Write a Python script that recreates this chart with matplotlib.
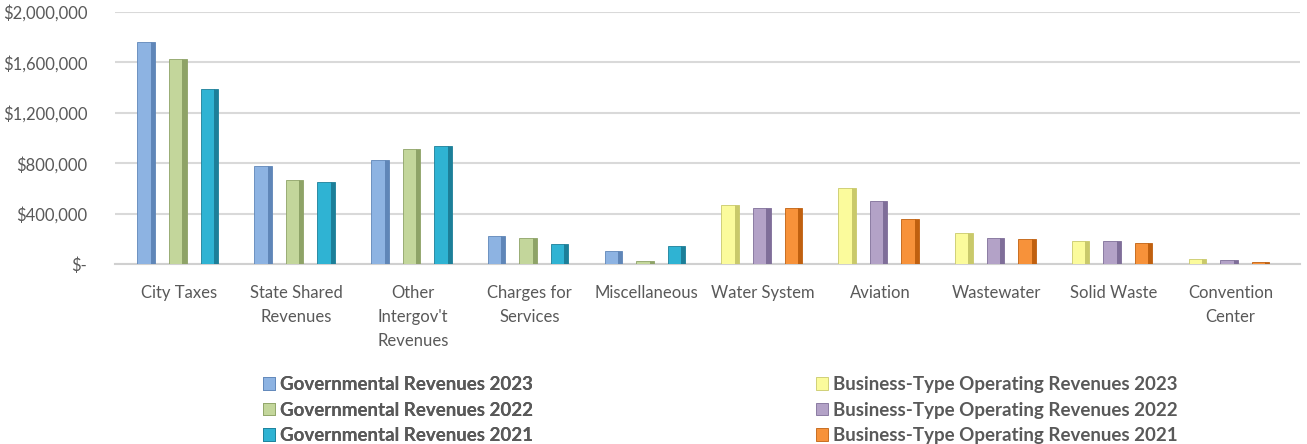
import numpy as np
import matplotlib
matplotlib.use('Agg')
import matplotlib.pyplot as plt
from matplotlib.ticker import FuncFormatter
from matplotlib.patches import Patch

categories = ["City Taxes", "State Shared\nRevenues", "Other\nIntergov't\nRevenues",
              "Charges for\nServices", "Miscellaneous", "Water System", "Aviation",
              "Wastewater", "Solid Waste", "Convention\nCenter"]

gov_2023 = [1760000, 776000, 824000, 224000, 104000]
gov_2022 = [1624000, 664000, 912000, 208000, 24000]
gov_2021 = [1392000, 648000, 936000, 160000, 144000]

bus_2023 = [472000, 608000, 248000, 184000, 40000]
bus_2022 = [448000, 504000, 208000, 184000, 32000]
bus_2021 = [448000, 360000, 200000, 168000, 16000]

yticks = [0, 400000, 800000, 1200000, 1600000, 2000000]

series = [
    ("Governmental Revenues 2023", gov_2023, "#8db3e2", "#5f86b8"),
    ("Governmental Revenues 2022", gov_2022, "#c3d69b", "#8ea367"),
    ("Governmental Revenues 2021", gov_2021, "#2fb3d3", "#1c7f99"),
    ("Business-Type Operating Revenues 2023", bus_2023, "#fbfb9c", "#c9c96a"),
    ("Business-Type Operating Revenues 2022", bus_2022, "#b3a2c7", "#7f6e99"),
    ("Business-Type Operating Revenues 2021", bus_2021, "#f7923a", "#c0600f"),
]

text_col = "#595959"
plt.rcParams['font.family'] = ['Lato', 'DejaVu Sans']


def money(v, pos):
    if v == 0:
        return "$-"
    return "${:,.0f}".format(v)


def main():
    fig = plt.figure(figsize=(13.07, 4.44), dpi=100)
    ax = fig.add_axes([0.088, 0.405, 0.907, 0.568])

    x = np.arange(len(categories))
    gov_x = x[:5]
    bus_x = x[5:]
    offsets = [-0.3, -0.03, 0.24]
    face_w = 0.115
    side_w = 0.035

    handles = []
    for i, (name, vals, col, dark) in enumerate(series):
        pos = gov_x if i < 3 else bus_x
        xx = pos + offsets[i % 3]
        ax.bar(xx, vals, face_w, color=col, edgecolor=dark, linewidth=0.6, zorder=3)
        ax.bar(xx + face_w / 2 + side_w / 2, vals, side_w, color=dark,
               edgecolor=dark, linewidth=0.6, zorder=3)
        handles.append(Patch(facecolor=col, edgecolor=dark, linewidth=0.6, label=name))

    ax.set_xlim(-0.55, 9.6)
    ax.set_ylim(0, 2000000)
    ax.set_yticks(yticks)
    ax.yaxis.set_major_formatter(FuncFormatter(money))
    ax.set_xticks(x)
    ax.set_xticklabels(categories, linespacing=1.6, va='top')
    ax.tick_params(axis='x', length=0, pad=15, labelsize=12, colors=text_col)
    ax.tick_params(axis='y', length=0, pad=20, labelsize=12, colors=text_col)

    ax.grid(axis='y', color="#d9d9d9", linewidth=1.5, zorder=0)
    for s in ["top", "right", "left"]:
        ax.spines[s].set_visible(False)
    ax.spines["bottom"].set_color("#d0d0d0")
    ax.spines["bottom"].set_linewidth(1.5)

    # Legends in two columns
    legend_kw = dict(loc='upper left', frameon=False,
                     prop={'weight': 'bold', 'size': 13.5},
                     handlelength=0.65, handleheight=0.65, handletextpad=0.25,
                     labelspacing=0.45, borderpad=0, labelcolor=text_col)
    leg1 = fig.legend(handles=handles[:3], bbox_to_anchor=(0.194, 0.174), **legend_kw)
    fig.legend(handles=handles[3:], bbox_to_anchor=(0.617, 0.174), **legend_kw)
    fig.add_artist(leg1)

    plt.savefig("out.png", dpi=100)


if __name__ == "__main__":
    main()
